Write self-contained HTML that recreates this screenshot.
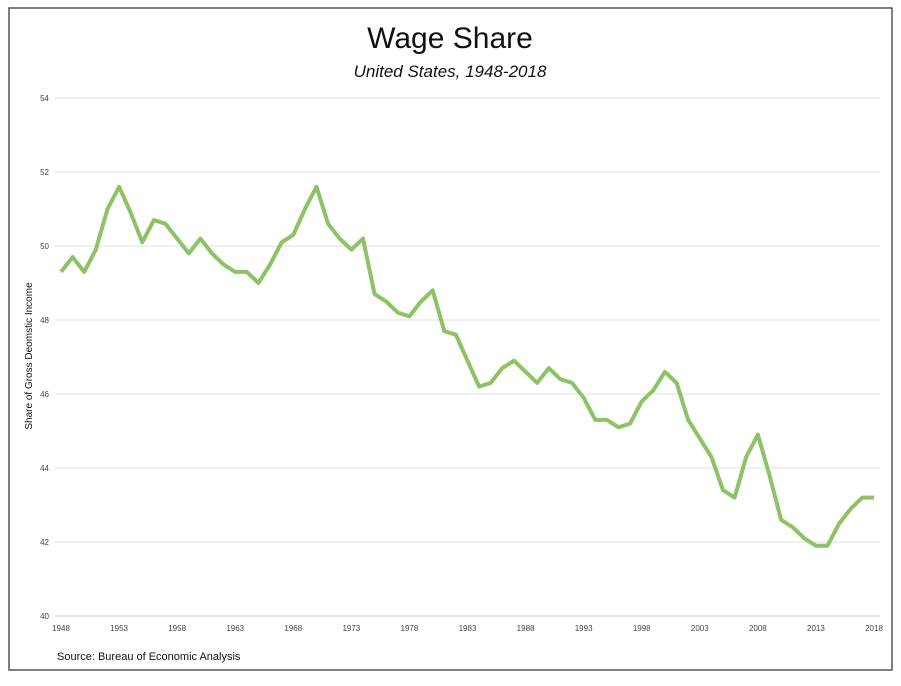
<!DOCTYPE html>
<html><head><meta charset="utf-8"><style>
body{margin:0;background:#fff;width:901px;height:681px;overflow:hidden;font-family:"Liberation Sans",sans-serif}
</style></head><body>
<svg width="901" height="681">
<rect x="9" y="8" width="883" height="662" fill="#fff" stroke="#555" stroke-width="1.5"/>
<text x="450" y="48" text-anchor="middle" font-size="30" fill="#111">Wage Share</text>
<text x="450" y="77" text-anchor="middle" font-size="17" font-style="italic" fill="#111">United States, 1948-2018</text>
<text transform="translate(32,356) rotate(-90)" text-anchor="middle" font-size="10" fill="#111">Share of Gross Deomstic Income</text>
<text x="57" y="660" font-size="11" fill="#111">Source: Bureau of Economic Analysis</text>
<g id="grid"></g><g id="ticks"></g>
<path id="line" fill="none" stroke="#8dc265" stroke-width="4" stroke-linejoin="round"/>
</svg>
<script>
const years=[];for(let y=1948;y<=2018;y++)years.push(y);
const values=[49.3,49.7,49.3,49.9,51.0,51.6,50.9,50.1,50.7,50.6,50.2,49.8,50.2,49.8,49.5,49.3,49.3,49.0,49.5,50.1,50.3,51.0,51.6,50.6,50.2,49.9,50.2,48.7,48.5,48.2,48.1,48.5,48.8,47.7,47.6,46.9,46.2,46.3,46.7,46.9,46.6,46.3,46.7,46.4,46.3,45.9,45.3,45.3,45.1,45.2,45.8,46.1,46.6,46.3,45.3,44.8,44.3,43.4,43.2,44.3,44.9,43.8,42.6,42.4,42.1,41.9,41.9,42.5,42.9,43.2,43.2];
const yTicks=[40,42,44,46,48,50,52,54];
const xTicks=[1948,1953,1958,1963,1968,1973,1978,1983,1988,1993,1998,2003,2008,2013,2018];
const ns="http://www.w3.org/2000/svg";
const X=y=>61+(y-1948)*(874-61)/70;
const Y=v=>616-(v-40)*37;
const grid=document.getElementById('grid'),ticks=document.getElementById('ticks');
yTicks.forEach(t=>{
 const l=document.createElementNS(ns,'line');
 l.setAttribute('x1',55);l.setAttribute('x2',880);l.setAttribute('y1',Y(t));l.setAttribute('y2',Y(t));
 l.setAttribute('stroke',t===40?'#ccc':'#e2e2e2');l.setAttribute('stroke-width',1);
 
 
 grid.appendChild(l);
 const tx=document.createElementNS(ns,'text');
 tx.setAttribute('x',49);tx.setAttribute('y',Y(t)+3);tx.setAttribute('text-anchor','end');tx.setAttribute('font-size',8);tx.setAttribute('fill','#444');
 tx.textContent=t;
 
 
 ticks.appendChild(tx);
});
xTicks.forEach(t=>{
 const tx=document.createElementNS(ns,'text');
 tx.setAttribute('x',X(t));tx.setAttribute('y',631);tx.setAttribute('text-anchor','middle');tx.setAttribute('font-size',8);tx.setAttribute('fill','#444');
 tx.textContent=t;
 
 
 ticks.appendChild(tx);
});
document.getElementById('line').setAttribute('d',values.map((v,i)=>(i?'L':'M')+X(years[i]).toFixed(1)+','+Y(v).toFixed(1)).join(''));
</script>
</body></html>
